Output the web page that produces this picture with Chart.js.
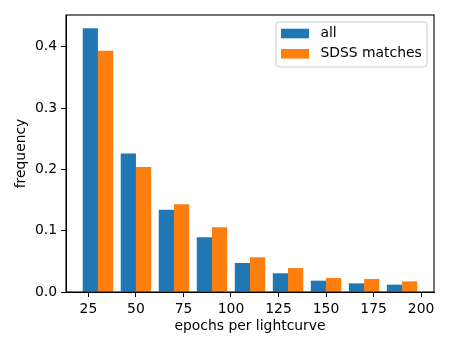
<!DOCTYPE html>
<html>
<head>
<meta charset="utf-8">
<script src="https://cdn.jsdelivr.net/npm/chart.js@4/dist/chart.umd.min.js"></script>
<style>
  html, body { margin: 0; padding: 0; background: #fff; }
  #wrap { position: relative; width: 450px; height: 350px; }
  canvas { display: block; }
</style>
</head>
<body>
<div id="wrap"><canvas id="c" width="450" height="350"></canvas></div>
<script>
// Histogram bin centres (bins of width 20 from 20 to 200)
const binCenters = [30, 50, 70, 90, 110, 130, 150, 170, 190];
const seriesLabels = ["all", "SDSS matches"];
const allFreq  = [0.4305, 0.2258, 0.1344, 0.0893, 0.0473, 0.0305, 0.0185, 0.0141, 0.0120];
const sdssFreq = [0.3935, 0.2040, 0.1430, 0.1056, 0.0566, 0.0390, 0.0229, 0.0212, 0.0174];
const xTicks = [25, 50, 75, 100, 125, 150, 175, 200];
const yTicks = [0.0, 0.1, 0.2, 0.3, 0.4];

const FONT = "'DejaVu Sans', sans-serif";
const FS = 13.9;

const frame = {
  id: 'frame',
  afterDatasetsDraw(chart) {
    const {ctx, chartArea: a} = chart;
    ctx.save();
    ctx.strokeStyle = '#000';
    ctx.lineWidth = 1.1;
    ctx.strokeRect(a.left, a.top, a.right - a.left, a.bottom - a.top);
    ctx.restore();
  }
};

const legendBox = {
  id: 'legendBox',
  afterDraw(chart) {
    const {ctx} = chart;
    const x = 276, y = 22, w = 151, h = 45, r = 3;
    ctx.save();
    ctx.beginPath();
    ctx.moveTo(x + r, y);
    ctx.arcTo(x + w, y, x + w, y + h, r);
    ctx.arcTo(x + w, y + h, x, y + h, r);
    ctx.arcTo(x, y + h, x, y, r);
    ctx.arcTo(x, y, x + w, y, r);
    ctx.closePath();
    ctx.fillStyle = 'rgba(255,255,255,0.8)';
    ctx.fill();
    ctx.strokeStyle = '#cccccc';
    ctx.lineWidth = 1;
    ctx.stroke();
    ctx.font = FS + 'px ' + FONT;
    ctx.textBaseline = 'middle';
    ctx.fillStyle = '#000';
    chart.data.datasets.forEach((ds, i) => {
      const cy = 33.5 + i * 20.3;
      ctx.fillStyle = ds.backgroundColor;
      ctx.fillRect(281, cy - 4.8, 28, 9.6);
      ctx.fillStyle = '#000';
      ctx.fillText(ds.label, 320.5, cy);
    });
    ctx.restore();
  }
};

new Chart(document.getElementById('c'), {
  type: 'bar',
  data: {
    datasets: [
      {
        label: seriesLabels[0],
        data: binCenters.map((x, i) => ({x: x, y: allFreq[i]})),
        backgroundColor: '#1f77b4',
        borderWidth: 0,
        barPercentage: 1.0,
        categoryPercentage: 0.8
      },
      {
        label: seriesLabels[1],
        data: binCenters.map((x, i) => ({x: x, y: sdssFreq[i]})),
        backgroundColor: '#ff7f0e',
        borderWidth: 0,
        barPercentage: 1.0,
        categoryPercentage: 0.8
      }
    ]
  },
  options: {
    responsive: false,
    devicePixelRatio: 1,
    animation: false,
    layout: { padding: { left: 0, top: 15, right: 16, bottom: 0 } },
    plugins: {
      legend: { display: false },
      tooltip: { enabled: false }
    },
    scales: {
      x: {
        type: 'linear',
        min: 13.2,
        max: 206.8,
        offset: false,
        grid: { display: true, drawOnChartArea: false, drawTicks: true, tickLength: 5, color: '#000', offset: false, lineWidth: 1 },
        border: { display: true, color: '#000', width: 1 },
        ticks: { color: '#000', font: { family: FONT, size: FS }, padding: 4, maxRotation: 0, autoSkip: false },
        afterBuildTicks: (axis) => { axis.ticks = xTicks.map(v => ({value: v})); },
        afterFit: (axis) => { axis.height = 58; },
        title: { display: true, text: 'epochs per lightcurve', color: '#000', font: { family: FONT, size: FS, lineHeight: 1.2 }, padding: { top: 0, bottom: 15.5 } }
      },
      y: {
        type: 'linear',
        min: 0,
        max: 0.452,
        grid: { display: true, drawOnChartArea: false, drawTicks: true, tickLength: 5, color: '#000', lineWidth: 1 },
        border: { display: true, color: '#000', width: 1 },
        ticks: { color: '#000', font: { family: FONT, size: FS }, padding: 4, callback: (v) => Number(v).toFixed(1) },
        afterBuildTicks: (axis) => { axis.ticks = yTicks.map(v => ({value: v})); },
        afterFit: (axis) => { axis.width = 66; },
        title: { display: true, text: 'frequency', color: '#000', font: { family: FONT, size: FS, lineHeight: 1.2 }, padding: { top: 13.5, bottom: 0 } }
      }
    }
  },
  plugins: [frame, legendBox]
});
</script>
</body>
</html>
